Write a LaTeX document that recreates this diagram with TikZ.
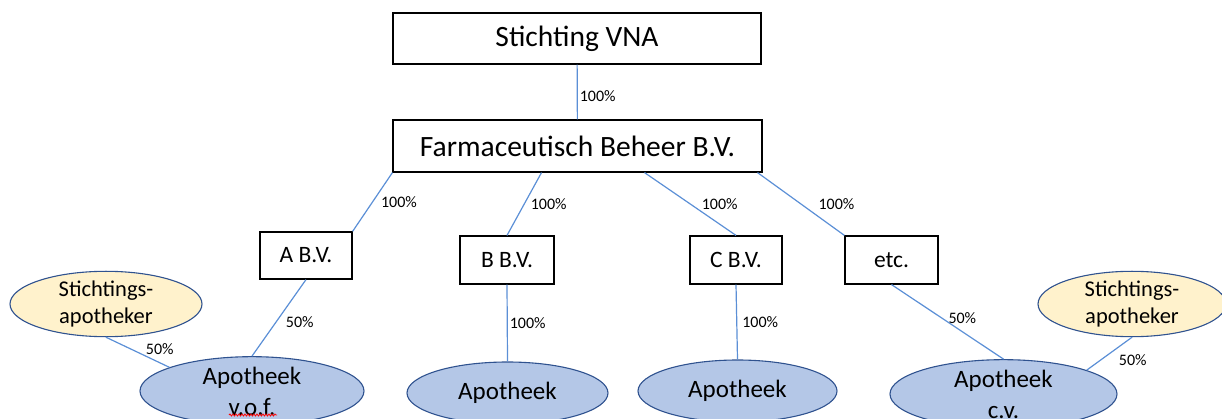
\documentclass[tikz,border=0pt]{standalone}
\usepackage{fontspec}
\setmainfont{Carlito}
\usetikzlibrary{shapes.geometric,decorations.pathmorphing}
\definecolor{linkblue}{RGB}{91,143,214}
\definecolor{apofill}{RGB}{180,199,231}
\definecolor{stafill}{RGB}{255,242,204}
\definecolor{ellborder}{RGB}{47,82,143}
\begin{document}
\begin{tikzpicture}[x=1pt,y=-1pt,
  box/.style={draw=black, line width=1.2pt, fill=white, inner sep=0pt},
  bigbox/.style={box, font=\fontsize{29.5}{35}\selectfont},
  smallbox/.style={box, font=\fontsize{23.5}{28}\selectfont},
  apo/.style={ellipse, draw=ellborder, line width=1.1pt, fill=apofill, inner sep=0pt, align=center, font=\fontsize{25}{31}\selectfont},
  sta/.style={apo, fill=stafill, font=\fontsize{22.5}{27}\selectfont},
  link/.style={draw=linkblue, line width=1.2pt},
  pct/.style={anchor=west, inner sep=0pt, font=\fontsize{16}{18}\selectfont}]
\useasboundingbox (0,0) rectangle (1222,419);

\node[bigbox, minimum width=368pt, minimum height=51pt] (vna) at (577,38.5) {Stichting VNA};
\node[bigbox, minimum width=369pt, minimum height=52pt] (farm) at (577.5,146) {Farmaceutisch Beheer B.V.};

\node[smallbox, minimum width=92pt, minimum height=47pt] (abv) at (306,255.5) {A B.V.};
\node[smallbox, minimum width=94pt, minimum height=48pt] (bbv) at (507,260) {B B.V.};
\node[smallbox, minimum width=92pt, minimum height=48pt] (cbv) at (736,260) {C B.V.};
\node[smallbox, minimum width=93pt, minimum height=48pt] (etcbv) at (891.5,260) {etc.};

\node[sta, minimum width=192pt, minimum height=58pt] (sta1) at (106,304) {Stichtings-\\apotheker};
\node[sta, minimum width=188pt, minimum height=58pt] (sta2) at (1132,304) {Stichtings-\\apotheker};

\node[apo, minimum width=224pt, minimum height=64pt] (vof) at (252,391) {Apotheek\\v.o.f.};
\node[apo, minimum width=201pt, minimum height=62pt] (apob) at (507.5,393) {Apotheek};
\node[apo, minimum width=199pt, minimum height=62pt] (apoc) at (737.5,391) {Apotheek};
\node[apo, minimum width=227pt, minimum height=62pt] (cv) at (1003.5,394) {Apotheek\\c.v.};

\draw[link] (vna) -- (farm) node[pct, pos=.57, xshift=2pt] {100\%};
\draw[link] (farm.south west) -- (abv.north east) node[pct, pos=.5, xshift=8pt] {100\%};
\draw[link] ([xshift=-36pt]farm.south) -- (bbv.north) node[pct, pos=.5, xshift=6pt] {100\%};
\draw[link] ([xshift=67pt]farm.south) -- (cbv.north) node[pct, pos=.5, xshift=11pt] {100\%};
\draw[link] ([xshift=180pt]farm.south) -- (etcbv.north west) node[pct, pos=.5, xshift=17pt] {100\%};

\draw[link] (abv.south) -- (vof.north) node[pct, pos=.55, xshift=9pt] {50\%};
\draw[link] (sta1.south) -- (vof.164) node[pct, pos=.4, xshift=14pt] {50\%};
\draw[link] (bbv.south) -- (apob.north) node[pct, pos=.5, xshift=2pt] {100\%};
\draw[link] (cbv.south) -- (apoc.north) node[pct, pos=.5, xshift=5pt] {100\%};
\draw[link] (etcbv.south) -- (cv.north) node[pct, pos=.45, xshift=6pt] {50\%};
\draw[link] (sta2.south) -- (cv.16) node[pct, pos=.7, xshift=18pt] {50\%};

\draw[red, line width=0.8pt, decorate, decoration={snake, amplitude=1pt, segment length=3pt}] (229,415) -- (277,415);
\end{tikzpicture}
\end{document}
